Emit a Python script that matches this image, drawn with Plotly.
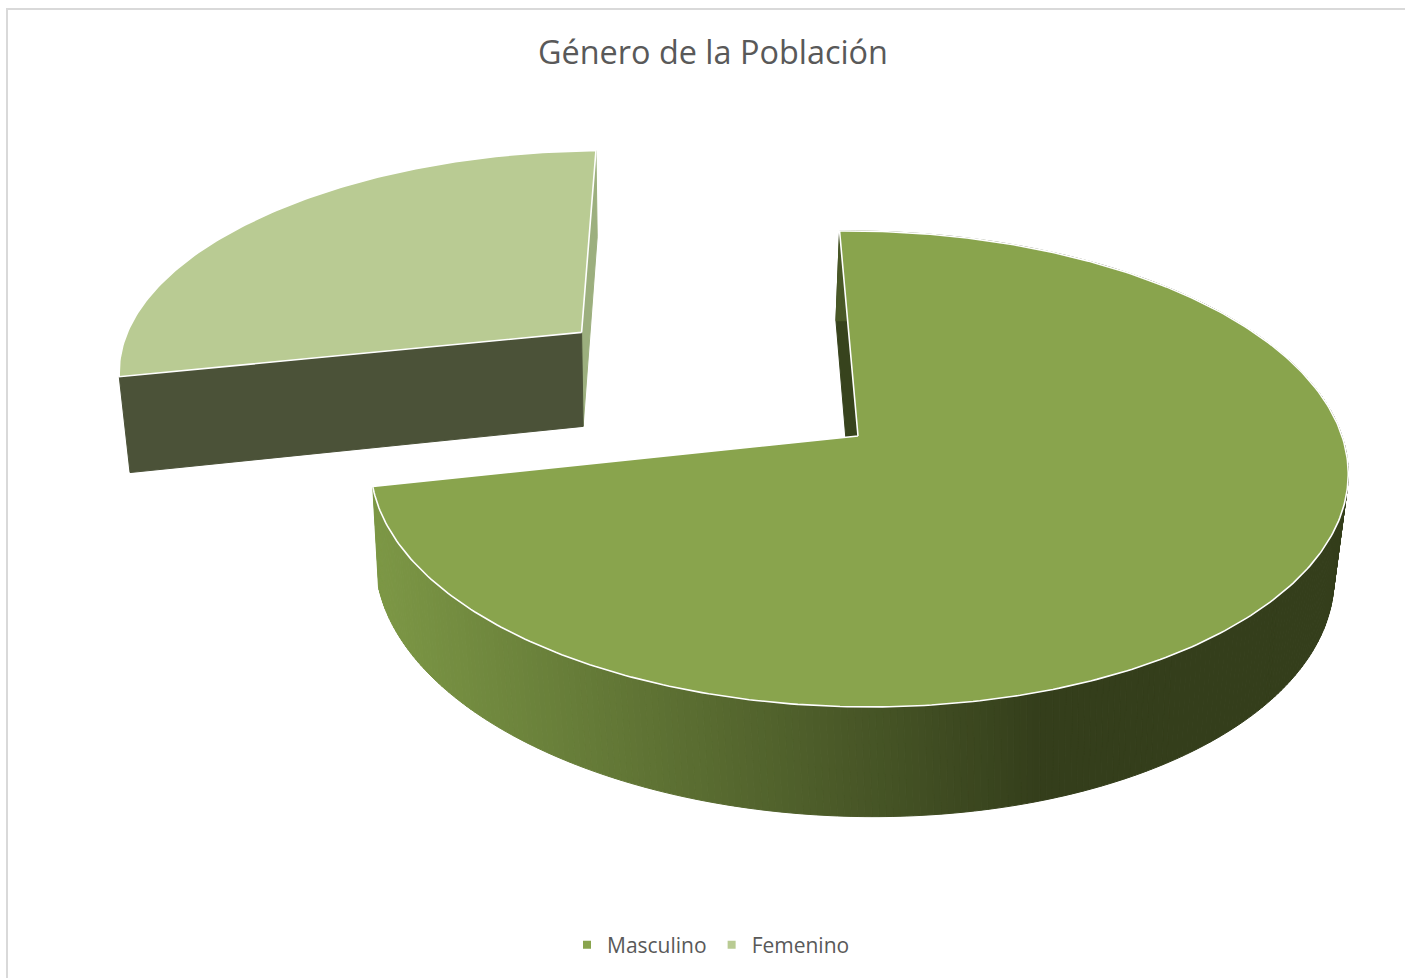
import math
import plotly.graph_objects as go

# Data
categories = ["Masculino", "Femenino"]
values = [72, 28]
title_text = "Género de la Población"

# Style
top_colors = ["#89a44d", "#b9cb93"]
fem_front_wall = "#4b5238"
fem_side_wall = "#9caf7e"
main_wall = "#37431d"
side_light = (124, 151, 69)
side_dark = (52, 62, 27)

# 3D view parameters of the pie (canvas pixels)
W, H = 1405, 978
X0, Y0, A, B, SKEW, K = 858, 436, 484, 233.4, -10, 0.1386
FIRST_ANGLE = -1.3
EXPLODE = 0.763


def top_point(u, v):
    w = 1 + K * v
    return X0 + (A * u + SKEW * v) / w, Y0 - B * v / w


def lower(p):
    x, y = p
    front_shift = 8 * max(0.0, (y - 487) / 220)
    return X0 - 4 + (x - X0) * 0.98 + front_shift, y + 80 + 0.042 * y


def rim(a0, a1, n, du=0.0, dv=0.0):
    pts = []
    for i in range(n + 1):
        t = math.radians(a0 + (a1 - a0) * i / n)
        pts.append(top_point(math.sin(t) + du, math.cos(t) + dv))
    return pts


def poly(pts, fill, line=None, width=1.0, name=None):
    xs = [p[0] for p in pts] + [pts[0][0]]
    ys = [p[1] for p in pts] + [pts[0][1]]
    return go.Scatter(x=xs, y=ys, mode="lines", fill="toself", fillcolor=fill,
                      line=dict(color=line or fill, width=width),
                      showlegend=False, hoverinfo="skip" if name is None else "name",
                      name=name or "")


def side_colour(x):
    f = min(max((x - 375) / (1040 - 375), 0), 1)
    c = [round(side_light[i] + (side_dark[i] - side_light[i]) * f) for i in range(3)]
    return f"rgb({c[0]},{c[1]},{c[2]})"


total = sum(values)
span_m = 360 * values[0] / total
span_f = 360 * values[1] / total
a_m0, a_m1 = FIRST_ANGLE, FIRST_ANGLE + span_m
a_f0, a_f1 = a_m1, a_m1 + span_f
bis = math.radians((a_f0 + a_f1) / 2)
du, dv = EXPLODE * math.sin(bis), EXPLODE * math.cos(bis)

fig = go.Figure()

# Femenino (exploded slice)
f_apex = top_point(du, dv)
f_arc = rim(a_f0, a_f1, 120, du, dv)
fig.add_trace(poly([f_arc[-1], lower(f_arc[-1]), lower(f_apex), f_apex], fem_side_wall))
fig.add_trace(poly([f_arc[0], f_apex, lower(f_apex), lower(f_arc[0])], fem_front_wall))
fig.add_trace(poly([f_apex] + f_arc, top_colors[1], "#ffffff", 1.6, categories[1]))

# Masculino
m_apex = top_point(0, 0)
m_arc = rim(a_m0, a_m1, 360, 0, 0)
fig.add_trace(poly([m_arc[0], lower(m_arc[0]), lower(m_apex), m_apex], main_wall))
for a, b in zip(m_arc[:-1], m_arc[1:]):
    fig.add_trace(poly([a, b, lower(b), lower(a)], side_colour((a[0] + b[0]) / 2)))
fig.add_trace(poly([m_apex] + m_arc, top_colors[0], "#ffffff", 1.6, categories[0]))

# Legend keys
for name, col in zip(categories, top_colors):
    fig.add_trace(go.Scatter(x=[None], y=[None], mode="markers", name=name,
                             marker=dict(symbol="square", size=8, color=col)))

fig.update_layout(
    width=W, height=H, autosize=False,
    margin=dict(l=0, r=0, t=0, b=0),
    paper_bgcolor="#ffffff", plot_bgcolor="#ffffff",
    font=dict(family="Open Sans", color="#595959"),
    title=dict(text=title_text, x=713 / W, xanchor="center", y=1 - 53 / H, yanchor="middle",
               font=dict(size=32.4, family="Open Sans", color="#595959")),
    xaxis=dict(range=[0, W], visible=False, fixedrange=True),
    yaxis=dict(range=[H, 0], visible=False, fixedrange=True),
    legend=dict(orientation="h", x=711 / W, xanchor="center", y=1 - 945 / H, yanchor="middle",
                font=dict(size=21, color="#595959"), itemwidth=30, traceorder="normal",
                bgcolor="rgba(0,0,0,0)"),
    shapes=[
        dict(type="line", xref="paper", yref="paper", x0=7 / W, x1=7 / W, y0=0, y1=1 - 8 / H,
             line=dict(color="#d9d9d9", width=2)),
        dict(type="line", xref="paper", yref="paper", x0=6 / W, x1=1, y0=1 - 9 / H, y1=1 - 9 / H,
             line=dict(color="#d9d9d9", width=2)),
    ],
)

fig.write_html("out.html", config={"displayModeBar": False},
               post_script="document.body.style.margin='0';document.documentElement.style.overflow='hidden';")
